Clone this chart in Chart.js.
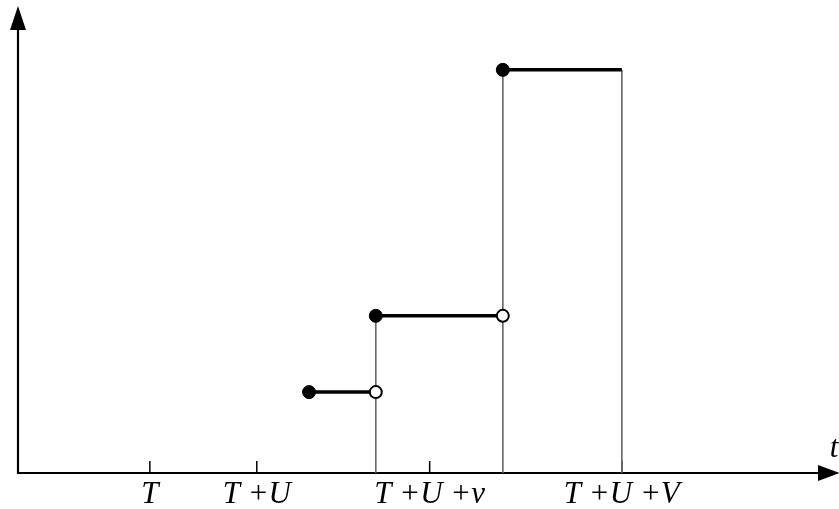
<!DOCTYPE html>
<html>
<head>
<script src="https://cdn.jsdelivr.net/npm/chart.js"></script>
<title>Step function</title>
<style>
  body { margin: 0; background: #fff; }
  #box { width: 839px; height: 509px; }
</style>
</head>
<body>
<div id="box"><canvas id="myChart"></canvas></div>
<script>
// positions on the time axis (scale 0..10)
const tickValues = [1.64, 2.97, 5.12, 7.51];
const tickLabels = ['T', 'T +U', 'T +U +v', 'T +U +V'];
// step segments: start, end, height
const stepStarts = [3.62, 4.45, 6.03];
const stepEnds = [4.45, 6.03, 7.51];
const stepLevels = [1.74, 3.38, 8.67];
// jumps with an open circle at the end of the previous step
const openX = [4.45, 6.03];
const openY = [1.74, 3.38];
// thin verticals down to the axis
const dropX = [4.45, 6.03, 7.51];
const dropTop = [3.38, 8.67, 8.67];

const stepData = [];
stepStarts.forEach((s, i) => {
  stepData.push({x: s, y: stepLevels[i]});
  stepData.push({x: stepEnds[i], y: stepLevels[i]});
  stepData.push({x: stepEnds[i], y: null});
});
const dropData = [];
dropX.forEach((x, i) => {
  dropData.push({x: x, y: dropTop[i]});
  dropData.push({x: x, y: 0});
  dropData.push({x: x, y: null});
});
const filledData = stepStarts.map((s, i) => ({x: s, y: stepLevels[i]}));
const openData = openX.map((x, i) => ({x: x, y: openY[i]}));

const axesPlugin = {
  id: 'axes',
  beforeDatasetsDraw(chart) {
    const ctx = chart.ctx;
    const xs = chart.scales.x, ys = chart.scales.y;
    const x0 = xs.getPixelForValue(0), y0 = ys.getPixelForValue(0);
    const right = chart.chartArea.right, top = chart.chartArea.top;
    ctx.save();
    ctx.strokeStyle = '#000';
    ctx.fillStyle = '#000';
    ctx.lineWidth = 2.2;
    ctx.beginPath();
    ctx.moveTo(x0, y0 + 1);
    ctx.lineTo(x0, top + 20);
    ctx.moveTo(x0 - 1, y0);
    ctx.lineTo(right + 4, y0);
    ctx.stroke();
    // arrow heads
    ctx.beginPath();
    ctx.moveTo(x0, top - 2);
    ctx.lineTo(x0 - 8, top + 22);
    ctx.lineTo(x0 + 8, top + 22);
    ctx.closePath();
    ctx.fill();
    ctx.beginPath();
    ctx.moveTo(right + 18, y0);
    ctx.lineTo(right - 4, y0 - 8);
    ctx.lineTo(right - 4, y0 + 8);
    ctx.closePath();
    ctx.fill();
    // ticks and labels
    ctx.lineWidth = 1.5;
    ctx.font = 'italic 31px "Liberation Serif", "DejaVu Serif", serif';
    ctx.textAlign = 'center';
    ctx.textBaseline = 'alphabetic';
    tickValues.forEach((v, i) => {
      const px = xs.getPixelForValue(v);
      ctx.beginPath();
      ctx.moveTo(px, y0);
      ctx.lineTo(px, y0 - 12);
      ctx.stroke();
      ctx.fillText(tickLabels[i], px, y0 + 30);
    });
    ctx.fillText('t', right + 12, y0 - 16);
    ctx.restore();
  }
};

new Chart(document.getElementById('myChart'), {
  type: 'scatter',
  data: {
    datasets: [
      {
        data: filledData,
        pointRadius: 6.5,
        pointBackgroundColor: '#000',
        pointBorderColor: '#000',
        pointBorderWidth: 1,
        order: 1
      },
      {
        data: openData,
        pointRadius: 6,
        pointBackgroundColor: '#fff',
        pointBorderColor: '#000',
        pointBorderWidth: 2,
        order: 1
      },
      {
        data: stepData,
        showLine: true,
        spanGaps: false,
        borderColor: '#000',
        borderWidth: 3.5,
        pointRadius: 0,
        order: 2
      },
      {
        data: dropData,
        showLine: true,
        spanGaps: false,
        borderColor: '#666',
        borderWidth: 1,
        pointRadius: 0,
        order: 3
      }
    ]
  },
  options: {
    responsive: true,
    maintainAspectRatio: false,
    animation: false,
    layout: { padding: { left: 18, right: 17, top: 8, bottom: 36 } },
    scales: {
      x: { type: 'linear', min: 0, max: 10, display: false },
      y: { type: 'linear', min: 0, max: 10, display: false }
    },
    plugins: {
      legend: { display: false },
      tooltip: { enabled: false }
    }
  },
  plugins: [axesPlugin]
});
</script>
</body>
</html>
